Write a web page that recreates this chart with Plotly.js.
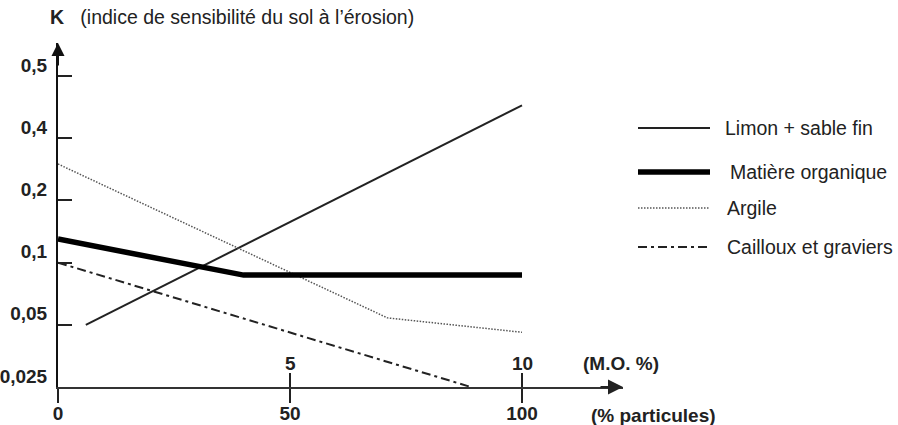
<!DOCTYPE html>
<html>
<head>
<meta charset="utf-8">
<script src="https://cdn.plot.ly/plotly-3.0.1.min.js"></script>
<style>html,body{margin:0;padding:0;background:#fff;}</style>
</head>
<body>
<div id="chart" style="width:898px;height:425px;"></div>
<script>
// ---- data ----
const K_TICKS = [0.025, 0.05, 0.1, 0.2, 0.4, 0.5];
const K_LABELS = ['0,025', '0,05', '0,1', '0,2', '0,4', '0,5'];
const PART_TICKS = [0, 50, 100];
const MO_TICKS = [5, 10];

const limonX = [6, 100];          // % particules
const limonK = [0.05, 0.45];
const moX = [0, 4, 10];           // M.O. %
const moK = [0.13, 0.087, 0.087];
const argileX = [0, 71, 100];     // % particules
const argileK = [0.3, 0.054, 0.046];
const caillouxX = [0, 89];        // % particules
const caillouxK = [0.1, 0.025];

const SERIES_NAMES = ['Limon + sable fin', 'Matière organique', 'Argile', 'Cailloux et graviers'];

// ---- K scale: equally spaced tick levels, log-interpolated between ticks ----
function kToLevel(k) {
  for (let i = 0; i < K_TICKS.length - 1; i++) {
    const a = K_TICKS[i], b = K_TICKS[i + 1];
    if (k <= b || i === K_TICKS.length - 2) {
      return i + Math.log(k / a) / Math.log(b / a);
    }
  }
}
const lv = arr => arr.map(kToLevel);

// ---- geometry (pixels) ----
const PL = 58, PR = 623, PT = 43, PB = 387;
const W = PR - PL, H = PB - PT;
const PX_PER_PART = 4.64;           // 100 % -> 464 px
const PX_PER_LEVEL = 62.2;
const px = x => (x - PL) / W;
const py = y => (PB - y) / H;

const FONT = 'Liberation Sans, Arial, Helvetica, sans-serif';
const FS = 19.5;   // regular text
const FB = 19;     // bold labels
const ARG_DASH = '1.5px,1.5px';
const CAI_DASH = '9px,4px,3px,4px';

const traces = [
  {x: limonX, y: lv(limonK), mode: 'lines', line: {color: '#222', width: 2}, name: SERIES_NAMES[0]},
  {x: moX, y: lv(moK), xaxis: 'x2', mode: 'lines', line: {color: '#000', width: 5.5}, name: SERIES_NAMES[1]},
  {x: argileX, y: lv(argileK), mode: 'lines', line: {color: '#555', width: 1.5, dash: ARG_DASH}, name: SERIES_NAMES[2]},
  {x: caillouxX, y: lv(caillouxK), mode: 'lines', line: {color: '#222', width: 2, dash: CAI_DASH}, name: SERIES_NAMES[3]}
].map(t => Object.assign(t, {type: 'scatter', showlegend: false, hoverinfo: 'skip', cliponaxis: false}));

// legend drawn by hand
const legendRows = [
  {y: 128, tx: 723, w: 2, color: '#222', dash: 'solid'},
  {y: 172, tx: 728, w: 5.5, color: '#000', dash: 'solid'},
  {y: 208, tx: 725, w: 1.5, color: '#555', dash: ARG_DASH},
  {y: 247, tx: 725, w: 2, color: '#222', dash: CAI_DASH}
];
const shapes = legendRows.map(r => ({
  type: 'line', xref: 'paper', yref: 'paper',
  x0: px(638), x1: px(710), y0: py(r.y), y1: py(r.y),
  line: {color: r.color, width: r.w, dash: r.dash}
}));
const annotations = legendRows.map((r, i) => ({
  xref: 'paper', yref: 'paper', x: px(r.tx), y: py(r.y),
  xanchor: 'left', yanchor: 'middle', showarrow: false,
  text: SERIES_NAMES[i], font: {family: FONT, size: FS, color: '#222'}
}));
// M.O. tick labels (above the axis)
MO_TICKS.forEach(v => annotations.push({
  xref: 'x2', yref: 'paper', x: v, y: py(363), xanchor: 'center', yanchor: 'middle',
  showarrow: false, text: '<b>' + v + '</b>', font: {family: FONT, size: FB, color: '#222'}
}));
annotations.push(
  {xref: 'paper', yref: 'paper', x: 1, y: 0, ax: -24, ay: 0, showarrow: true,
   arrowhead: 2, arrowsize: 1.5, arrowwidth: 2, arrowcolor: '#222', text: ''},
  {xref: 'paper', yref: 'paper', x: 0, y: 1, ax: 0, ay: 24, showarrow: true,
   arrowhead: 2, arrowsize: 1.3, arrowwidth: 2, arrowcolor: '#111', text: ''},
  {xref: 'paper', yref: 'paper', x: px(621), y: py(363), xanchor: 'center', yanchor: 'middle',
   showarrow: false, text: '<b>(M.O. %)</b>', font: {family: FONT, size: FB, color: '#222'}},
  {xref: 'paper', yref: 'paper', x: px(589), y: py(415), xanchor: 'left', yanchor: 'middle',
   showarrow: false, text: '<b>(% particules)</b>', font: {family: FONT, size: FB, color: '#222'}}
);

const layout = {
  width: 898, height: 425,
  margin: {l: PL, r: 898 - PR, t: PT, b: 425 - PB, pad: 0},
  paper_bgcolor: '#fff', plot_bgcolor: '#fff',
  font: {family: FONT, size: FS, color: '#222'},
  title: {
    text: '<b>K</b>\u00a0\u00a0\u00a0(indice de sensibilité du sol à l’érosion)',
    xref: 'container', yref: 'container', x: 50 / 898, y: 1 - 17 / 425,
    xanchor: 'left', yanchor: 'middle',
    font: {family: FONT, size: FS, color: '#222'}
  },
  xaxis: {
    range: [0, W / PX_PER_PART], tickvals: PART_TICKS, ticktext: PART_TICKS.map(String),
    ticks: 'outside', ticklen: 14, tickwidth: 2, tickcolor: '#222',
    ticklabelstandoff: -6,
    showline: true, linewidth: 2, linecolor: '#333',
    showgrid: false, zeroline: false, fixedrange: true,
    tickfont: {family: FONT, size: FB, weight: 'bold', color: '#222'}
  },
  xaxis2: {
    overlaying: 'x', side: 'bottom', anchor: 'y',
    range: [0, W / PX_PER_PART / 10], tickvals: MO_TICKS,
    ticks: 'inside', ticklen: 14, tickwidth: 2, tickcolor: '#222',
    showticklabels: false,
    showline: false, showgrid: false, zeroline: false, fixedrange: true
  },
  yaxis: {
    range: [0, H / PX_PER_LEVEL], tickvals: K_TICKS.map((_, i) => i), ticktext: K_LABELS,
    ticks: 'inside', ticklen: 14, tickwidth: 2, tickcolor: '#222',
    ticklabelshift: -11, ticklabelstandoff: 5, ticklabeloverflow: 'allow',
    showline: true, linewidth: 2, linecolor: '#111',
    showgrid: false, zeroline: false, fixedrange: true,
    tickfont: {family: FONT, size: FB, weight: 'bold', color: '#222'}
  },
  shapes: shapes,
  annotations: annotations,
  showlegend: false
};

Plotly.newPlot('chart', traces, layout, {displayModeBar: false, staticPlot: true});
</script>
</body>
</html>
